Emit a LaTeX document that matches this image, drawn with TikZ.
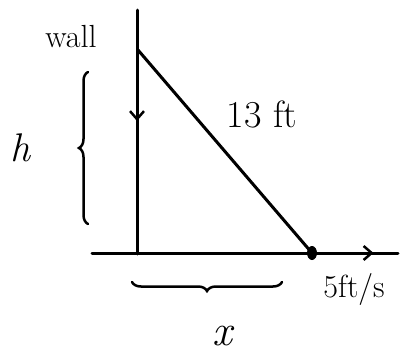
\documentclass[tikz,border=0pt]{standalone}
\usetikzlibrary{decorations.pathreplacing,decorations.markings,arrows.meta}

\begin{document}
\begin{tikzpicture}[x=1pt, y=-1pt, line width=3pt, line cap=round, >=Straight Barb,
    lbl/.style={font=\fontsize{32}{36}\selectfont},
    brc/.style={line width=2.5pt, decorate, decoration={brace, amplitude=9pt}},
    midarrow/.style={postaction={decorate}, decoration={markings,
        mark=at position #1 with {\arrow[line width=2.5pt]{Straight Barb[length=8pt,width=14pt]}}}}]
    \useasboundingbox (0,0) rectangle (400,354);

    % 墙、地面和梯子的端点
    \coordinate (walltop) at (137,10);
    \coordinate (wallfoot) at (137,254);
    \coordinate (groundL) at (92,253);
    \coordinate (groundR) at (398,253);
    \coordinate (top) at (138,50);
    \coordinate (foot) at (312,253);

    % 画墙 (向下的箭头) 和地面 (向右的箭头)
    \draw[midarrow=0.455] (walltop) -- (wallfoot);
    \draw[midarrow=0.92] (groundL) -- (groundR);

    % 画梯子
    \draw (top) -- (foot);
    \fill (foot) ellipse (5pt and 7pt);

    % 画大括号
    \draw[brc] (88,224) -- (88,72);
    \draw[brc] (282,282) -- (132,282);

    % 标注
    \node[lbl] (wall) at (71,37) {wall};
    \node[lbl, font=\fontsize{40}{44}\selectfont\itshape] (h) at (21,148) {h};
    \node[lbl, font=\fontsize{38}{42}\selectfont] (len) at (262,114) {13 ft};
    \node[lbl] (speed) at (354,289) {5ft/s};
    \node[lbl, font=\fontsize{44}{48}\selectfont\itshape] (x) at (222,336) {x};
\end{tikzpicture}
\end{document}
